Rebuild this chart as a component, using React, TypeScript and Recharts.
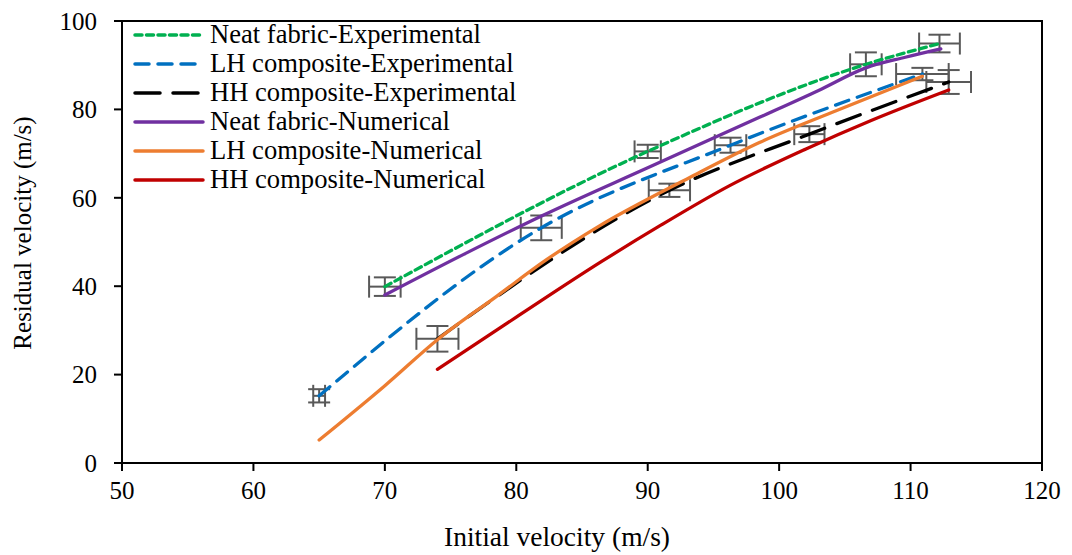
import React from 'react';
import { ComposedChart, Line, Scatter, XAxis, YAxis, ErrorBar, ReferenceArea, Label } from 'recharts';

// ---------- data ----------
const neatExpX = [70, 90, 106.6, 112.2];
const neatExpY = [39.9, 70.5, 90.2, 94.9];
const neatExpErrX = [1.2, 1.0, 1.2, 1.55];
const neatExpErrY = [2.1, 1.5, 2.7, 2.0];

const lhExpX = [65, 81.9, 96.3, 110.9];
const lhExpY = [15.2, 53.2, 71.9, 88.0];
const lhExpErrX = [0.45, 1.56, 1.2, 2.0];
const lhExpErrY = [1.5, 2.8, 1.7, 1.4];

const hhExpX = [74, 91.65, 102.3, 112.9];
const hhExpY = [28.1, 61.7, 74.4, 86.2];
const hhExpErrX = [1.6, 1.57, 1.15, 1.7];
const hhExpErrY = [2.9, 1.5, 1.8, 2.7];

const neatNumX = [70, 76, 82, 90, 98.5, 103, 106.6, 109.6, 112.3];
const neatNumY = [38.0, 47.2, 56.0, 66.8, 78.2, 84.3, 89.4, 91.8, 93.7];

const lhNumX = [65, 70, 74, 78.5, 82.3, 86.3, 93.2, 98.5, 104, 110.9];
const lhNumY = [5.2, 17.5, 27.9, 37.7, 46.0, 53.6, 64.6, 72.5, 79.3, 87.5];

const hhNumX = [74, 80, 86.5, 91, 96.2, 102, 107, 112.9];
const hhNumY = [21.2, 33.0, 45.6, 53.8, 62.7, 71.0, 77.5, 84.4];

const xTicks = [50, 60, 70, 80, 90, 100, 110, 120];
const yTicks = [0, 20, 40, 60, 80, 100];

const xTitle = 'Initial velocity (m/s)';
const yTitle = 'Residual velocity (m/s)';

// ---------- build ----------
const toRows = (xs: number[], ys: number[], exs?: number[], eys?: number[]) =>
  xs.map((x, i) => ({ x, y: ys[i], ex: exs ? exs[i] : 0, ey: eys ? eys[i] : 0 }));

const neatExp = toRows(neatExpX, neatExpY, neatExpErrX, neatExpErrY);
const lhExp = toRows(lhExpX, lhExpY, lhExpErrX, lhExpErrY);
const hhExp = toRows(hhExpX, hhExpY, hhExpErrX, hhExpErrY);
const neatNum = toRows(neatNumX, neatNumY);
const lhNum = toRows(lhNumX, lhNumY);
const hhNum = toRows(hhNumX, hhNumY);

const FONT = '"Liberation Serif", "Times New Roman", serif';

const series = [
  { name: 'Neat fabric-Experimental', data: neatExp, color: '#00B050', dash: '7 4.5' },
  { name: 'LH composite-Experimental', data: lhExp, color: '#0070C0', dash: '14 9' },
  { name: 'HH composite-Experimental', data: hhExp, color: '#000000', dash: '25 13' },
  { name: 'Neat fabric-Numerical', data: neatNum, color: '#7030A0', dash: undefined },
  { name: 'LH composite-Numerical', data: lhNum, color: '#ED7D31', dash: undefined },
  { name: 'HH composite-Numerical', data: hhNum, color: '#C00000', dash: undefined },
];

const errorSets = [neatExp, lhExp, hhExp];

const LegendBox = () => (
  <div style={{ position: 'absolute', left: 133, top: 20, fontFamily: FONT, fontSize: 26.6, color: '#000' }}>
    {series.map((s) => (
      <div key={s.name} style={{ display: 'flex', alignItems: 'center', height: 29, lineHeight: '29px', whiteSpace: 'nowrap' }}>
        <svg width={72} height={8} style={{ marginRight: 5 }}>
          <line x1={2} y1={4} x2={70} y2={4} stroke={s.color} strokeWidth={3.5} strokeDasharray={s.dash} strokeLinecap="round" />
        </svg>
        <span>{s.name}</span>
      </div>
    ))}
  </div>
);

const YTitle = (props: any) => {
  const vb = props.viewBox || {};
  const cx = (vb.x || 0) + 22;
  const cy = (vb.y || 0) + (vb.height || 0) / 2 - 9;
  return (
    <text x={cx} y={cy} transform={`rotate(-90, ${cx}, ${cy})`} textAnchor="middle" dominantBaseline="central"
      fontFamily={FONT} fontSize={25} fill="#000">
      {yTitle}
    </text>
  );
};

const XTitle = (props: any) => {
  const vb = props.viewBox || {};
  const cx = (vb.x || 0) + (vb.width || 0) / 2 - 25;
  const cy = (vb.y || 0) + 73;
  return (
    <text x={cx} y={cy} textAnchor="middle" dominantBaseline="central"
      fontFamily={FONT} fontSize={27.5} fill="#000">
      {xTitle}
    </text>
  );
};

const NoShape = () => <g />;

const tickStyle = { fill: '#000', fontSize: 25, fontFamily: FONT };

export default function App() {
  return (
    <div style={{ position: 'absolute', left: 0, top: 0, width: 1072, height: 555, background: '#fff', fontFamily: FONT }}>
      <ComposedChart width={1072} height={555} margin={{ top: 21, right: 30, left: 0, bottom: 32 }} style={{ fontFamily: FONT }}>
        <XAxis
          type="number"
          dataKey="x"
          domain={[50, 120]}
          ticks={xTicks}
          allowDataOverflow
          height={60}
          tickSize={8}
          tickMargin={10}
          axisLine={{ stroke: '#000', strokeWidth: 2 }}
          tickLine={{ stroke: '#000', strokeWidth: 2 }}
          tick={tickStyle}
        >
          <Label content={<XTitle />} />
        </XAxis>
        <YAxis
          type="number"
          dataKey="y"
          domain={[0, 100]}
          ticks={yTicks}
          allowDataOverflow
          width={122}
          tickSize={8}
          tickMargin={17}
          axisLine={{ stroke: '#000', strokeWidth: 2 }}
          tickLine={{ stroke: '#000', strokeWidth: 2 }}
          tick={tickStyle}
        >
          <Label content={<YTitle />} />
        </YAxis>
        <ReferenceArea x1={50} x2={120} y1={0} y2={100} fill="none" stroke="#000" strokeWidth={2} fillOpacity={0} />
        {errorSets.map((d, i) => (
          <Scatter key={'e' + i} data={d} dataKey="y" shape={NoShape} isAnimationActive={false} legendType="none">
            <ErrorBar dataKey="ex" direction="x" width={11} stroke="#595959" strokeWidth={2} />
            <ErrorBar dataKey="ey" direction="y" width={11} stroke="#595959" strokeWidth={2} />
          </Scatter>
        ))}
        {series.map((s) => (
          <Line
            key={s.name}
            name={s.name}
            data={s.data}
            dataKey="y"
            type="monotone"
            stroke={s.color}
            strokeWidth={3.3}
            strokeDasharray={s.dash}
            strokeLinecap="round"
            dot={false}
            activeDot={false}
            isAnimationActive={false}
          />
        ))}
      </ComposedChart>
      <LegendBox />
    </div>
  );
}
